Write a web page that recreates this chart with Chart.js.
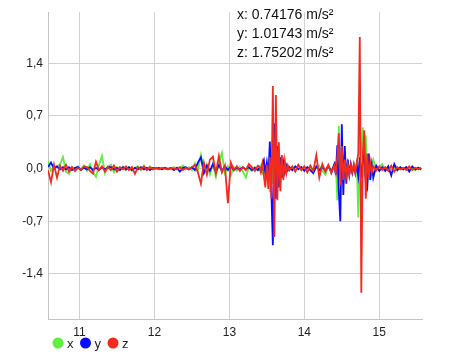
<!DOCTYPE html>
<html>
<head>
<meta charset="utf-8">
<script src="https://cdn.jsdelivr.net/npm/chart.js@4.4.0/dist/chart.umd.min.js"></script>
<style>
  html, body { margin: 0; padding: 0; background: #fff; }
  #wrap { width: 450px; height: 353px; }
</style>
</head>
<body>
<div id="wrap"><canvas id="accelChart" width="450" height="353"></canvas></div>
<script>
// sample times (s)
const times = [
  10.58, 10.62, 10.66, 10.70, 10.74, 10.78, 10.82, 10.86, 10.90, 10.94,
  10.98, 11.02, 11.06, 11.10, 11.14, 11.18, 11.22, 11.26, 11.30, 11.34,
  11.38, 11.42, 11.46, 11.50, 11.54, 11.58, 11.62, 11.66, 11.70, 11.74,
  11.78, 11.82, 11.86, 11.90, 11.94, 11.98, 12.02, 12.06, 12.10, 12.14,
  12.18, 12.22, 12.26, 12.30, 12.34, 12.38, 12.42, 12.46, 12.50, 12.54,
  12.58, 12.62, 12.66, 12.70, 12.74, 12.78, 12.82, 12.86, 12.90, 12.94,
  12.98, 13.02, 13.06, 13.10, 13.14, 13.18, 13.22, 13.26, 13.30, 13.34,
  13.38,
  13.40, 13.42, 13.44, 13.46, 13.48, 13.50, 13.52, 13.54, 13.56, 13.58,
  13.60, 13.62, 13.64, 13.66, 13.68, 13.70, 13.72, 13.74, 13.76, 13.78,
  13.80,
  13.84, 13.88, 13.92, 13.96, 14.00, 14.04, 14.08, 14.12, 14.16, 14.20,
  14.24, 14.28, 14.32, 14.36, 14.40,
  14.42, 14.44, 14.46, 14.48, 14.50, 14.52, 14.54, 14.56, 14.58, 14.60,
  14.62, 14.64, 14.66, 14.68, 14.70, 14.72, 14.74, 14.76, 14.78, 14.80,
  14.82, 14.84, 14.86, 14.88, 14.90, 14.92,
  14.96, 15.00, 15.04, 15.08, 15.12, 15.16, 15.20, 15.24, 15.28, 15.32,
  15.36, 15.40, 15.44, 15.48, 15.52, 15.56
];

// acceleration per axis (m/s²)
const accelX = [
  0.10, -0.03, 0.02, 0.03, 0.06, 0.155, -0.04, -0.07, 0.02, -0.03,
  0.03, -0.01, 0.04, -0.03, 0.06, -0.05, -0.11, 0.05, 0.17, -0.06,
  0.03, 0.05, -0.05, 0.02, -0.02, 0.03, -0.02, 0.02, -0.03, 0.01,
  0.03, -0.02, 0.04, -0.02, 0.03, -0.01, 0.01, -0.01, 0.01, 0.00,
  0.01, -0.01, 0.02, 0.00, 0.01, 0.04, -0.01, 0.02, -0.02, 0.07,
  -0.02, 0.18, -0.05, 0.06, -0.08, 0.05, -0.11, 0.08, 0.21, -0.06,
  0.03, -0.09, 0.02, -0.03, 0.02, -0.04, -0.12, 0.02, -0.03, 0.02,
  -0.01,
  -0.02, 0.03, -0.04, 0.06, -0.08, 0.04, -0.12, -0.31, 0.15, -0.20,
  0.25, -0.15, 0.18, 0.21, -0.20, 0.12, -0.08, 0.06, -0.04, 0.03,
  -0.02,
  0.02, -0.03, 0.04, -0.02, 0.03, -0.02, 0.03, -0.04, 0.02, 0.04,
  -0.03, -0.08, 0.03, -0.02, 0.05,
  0.08, -0.42, 0.57, -0.15, 0.20, -0.20, 0.10, -0.08, 0.06, -0.05,
  0.04, -0.06, 0.05, -0.03, 0.08, -0.65, 0.10, 0.30, 0.55, -0.10,
  0.44, -0.20, 0.10, -0.08, 0.05, 0.12,
  -0.03, 0.02, 0.06, -0.02, 0.02, -0.01, 0.02, -0.02, 0.01, -0.01,
  0.02, -0.01, 0.01, -0.02, 0.01, -0.01
];
const accelY = [
  0.02, 0.08, 0.00, 0.03, -0.01, 0.02, -0.01, 0.02, -0.02, 0.01,
  0.02, -0.02, 0.01, -0.01, 0.02, -0.02, 0.01, -0.02, 0.02, -0.01,
  0.02, 0.02, -0.01, 0.01, -0.02, 0.02, -0.01, 0.02, -0.02, 0.01,
  -0.01, 0.02, -0.01, 0.01, -0.02, 0.01, 0.00, 0.01, -0.01, 0.01,
  -0.01, 0.01, -0.02, 0.01, -0.04, 0.01, 0.02, -0.01, 0.02, -0.02,
  0.08, 0.15, -0.06, 0.04, -0.03, 0.06, -0.04, 0.05, -0.03, 0.03,
  -0.02, 0.03, -0.02, 0.01, -0.01, 0.02, -0.01, 0.02, -0.02, 0.01,
  -0.02,
  0.01, -0.03, 0.05, 0.11, -0.06, 0.08, -0.10, 0.36, -0.30, -1.02,
  0.60, -0.40, 0.30, -0.25, 0.15, -0.12, 0.08, -0.05, 0.04, -0.02,
  0.02,
  -0.02, 0.03, -0.01, 0.02, -0.03, 0.02, -0.02, -0.06, 0.03, -0.02,
  0.02, -0.03, 0.04, -0.05, 0.06,
  -0.08, 0.31, -0.31, -0.70, 0.59, -0.35, 0.30, -0.20, 0.12, -0.08,
  0.06, -0.05, 0.04, -0.06, 0.05, -0.10, 0.15, -0.12, 0.10, 0.20,
  -0.18, -0.25, 0.20, -0.15, 0.05, -0.12,
  0.04, -0.03, 0.02, -0.03, 0.03, -0.09, 0.06, -0.02, 0.02, -0.01,
  0.02, -0.04, 0.03, -0.01, 0.01, -0.01
];
const accelZ = [
  -0.02, -0.18, 0.05, -0.12, 0.04, -0.03, 0.05, -0.04, 0.02, -0.03,
  0.01, -0.02, 0.03, 0.02, -0.03, -0.065, 0.09, -0.02, 0.03, -0.04,
  0.02, -0.02, 0.04, -0.04, 0.02, -0.01, 0.03, -0.02, 0.02, -0.07,
  0.02, -0.01, 0.03, -0.02, 0.02, -0.01, 0.01, -0.01, 0.01, 0.00,
  -0.01, 0.01, 0.00, -0.01, 0.02, -0.02, 0.01, -0.01, 0.02, 0.05,
  -0.05, -0.20, 0.08, -0.08, 0.12, 0.16, -0.06, 0.17, -0.05, 0.04,
  -0.46, 0.08, -0.02, 0.03, -0.03, 0.02, -0.02, 0.06, 0.02, -0.03,
  0.04,
  0.03, -0.05, 0.07, -0.10, -0.25, 0.05, -0.27, 0.15, -0.40, 1.10,
  -0.91, 0.98, -0.42, 0.35, -0.30, 0.18, -0.15, 0.10, -0.06, 0.04,
  -0.02,
  0.03, -0.04, 0.05, -0.02, 0.03, -0.05, 0.04, -0.03, 0.18, -0.12,
  0.06, -0.04, 0.05, -0.06, 0.04,
  -0.05, 0.15, 0.47, -0.22, 0.30, -0.15, 0.12, -0.10, 0.06, -0.08,
  0.05, -0.04, 0.06, -0.05, 0.08, 0.20, 1.75, -1.65, 0.20, 0.51,
  -0.40, 0.20, -0.12, 0.08, -0.05, 0.03,
  -0.02, 0.03, -0.02, 0.02, -0.03, 0.04, -0.04, 0.02, -0.01, 0.01,
  -0.02, 0.03, -0.02, 0.01, -0.01, 0.01
];

const seriesNames = ['x', 'y', 'z'];
const peakValues = [0.74176, 1.01743, 1.75202];
const xTicks = [11, 12, 13, 14, 15];
const yTicks = [-1.4, -0.7, 0.0, 0.7, 1.4];

const colors = ['#5ef03c', '#0b0bff', '#f42a1e'];
const FONT = '"Liberation Sans", Arial, sans-serif';

function toPoints(values) {
  return values.map((v, i) => ({ x: times[i], y: v }));
}

// peak readout (top) and the little legend under the axis
const overlay = {
  id: 'overlay',
  beforeDraw(chart) {
    const c = chart.ctx;
    c.save();
    c.font = '14px ' + FONT;
    c.fillStyle = '#111';
    c.textBaseline = 'alphabetic';
    seriesNames.forEach((name, i) => {
      c.fillText(name + ': ' + peakValues[i].toFixed(5) + ' m/s\u00B2', 237, 19 + i * 19);
    });
    c.restore();
  },
  afterDraw(chart) {
    const c = chart.ctx;
    c.save();
    c.font = '13px ' + FONT;
    c.textBaseline = 'middle';
    let cx = chart.chartArea.left + 10;
    const cy = 343;
    seriesNames.forEach((name, i) => {
      c.fillStyle = colors[i];
      c.beginPath();
      c.arc(cx, cy, 5.5, 0, Math.PI * 2);
      c.fill();
      c.fillStyle = '#222';
      c.fillText(name, cx + 9, cy + 1);
      cx += 9 + c.measureText(name).width + 12;
    });
    c.restore();
  }
};

const ctx = document.getElementById('accelChart').getContext('2d');
new Chart(ctx, {
  type: 'line',
  data: {
    datasets: [
      { label: 'x', data: toPoints(accelX), borderColor: colors[0], order: 3 },
      { label: 'y', data: toPoints(accelY), borderColor: colors[1], order: 2 },
      { label: 'z', data: toPoints(accelZ), borderColor: colors[2], order: 1 }
    ]
  },
  options: {
    responsive: false,
    animation: false,
    layout: { padding: { top: 3, right: 28, bottom: 0, left: 0 } },
    elements: {
      point: { radius: 0 },
      line: { borderWidth: 1.8, tension: 0, fill: false }
    },
    plugins: {
      legend: { display: false },
      tooltip: { enabled: false }
    },
    scales: {
      x: {
        type: 'linear',
        min: 10.58,
        max: 15.57,
        afterBuildTicks: function(scale) {
          scale.ticks = xTicks.map(v => ({ value: v }));
        },
        afterFit: function(scale) { scale.height = 34; },
        grid: { color: '#d2d2d2', drawTicks: false },
        border: { color: '#c4c4c4' },
        ticks: {
          padding: 6,
          color: '#222',
          font: { family: FONT, size: 12 },
          callback: v => String(v)
        }
      },
      y: {
        min: -2.0,
        max: 2.08,
        afterBuildTicks: function(scale) {
          scale.ticks = yTicks.map(v => ({ value: v }));
        },
        afterFit: function(scale) { scale.width = 48; },
        grid: { color: '#d2d2d2', drawTicks: false },
        border: { color: '#c4c4c4' },
        ticks: {
          padding: 5,
          color: '#222',
          font: { family: FONT, size: 12 },
          callback: v => v.toFixed(1).replace('.', ',')
        }
      }
    }
  },
  plugins: [overlay]
});
</script>
</body>
</html>
